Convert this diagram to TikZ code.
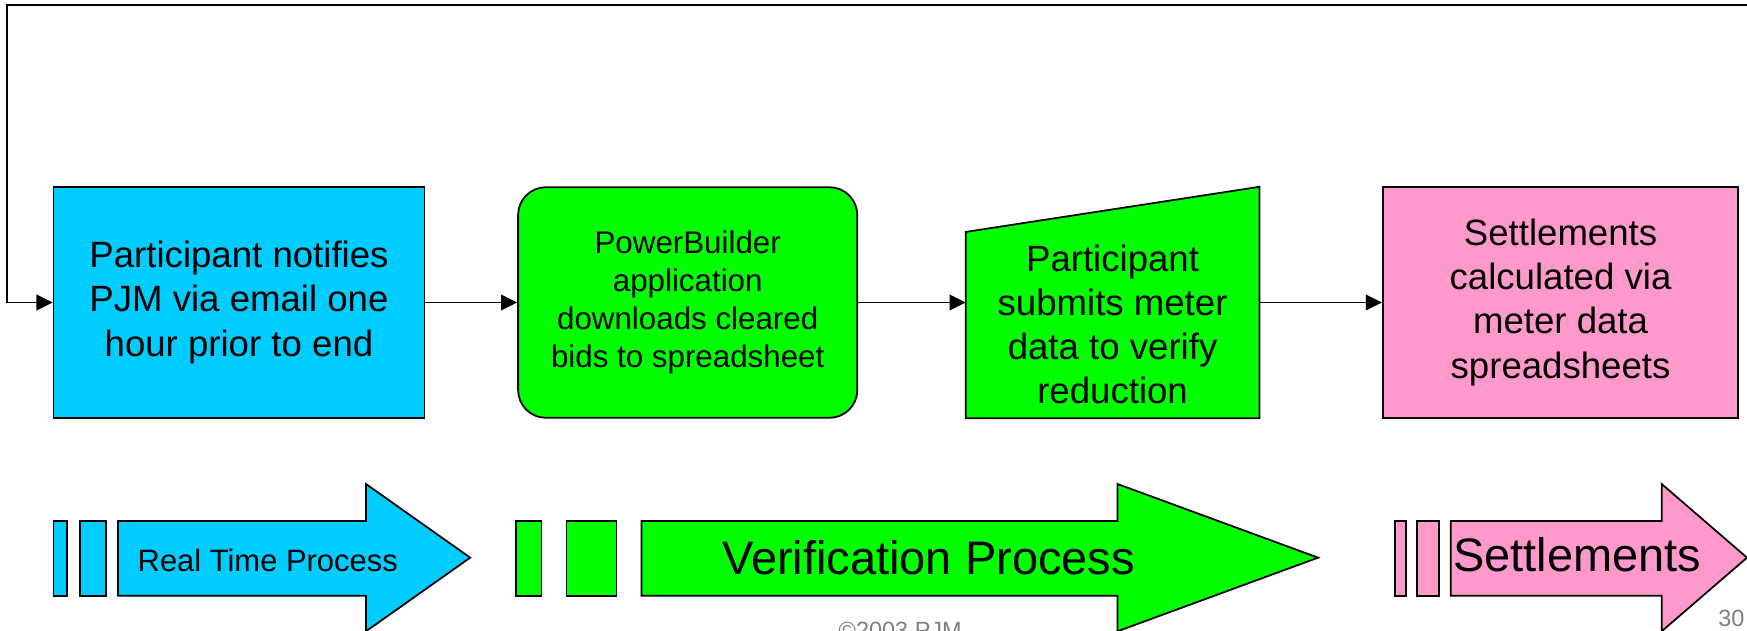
\documentclass[tikz,border=0pt]{standalone}
\usepackage{fontspec}
\setmainfont{Liberation Sans}
\usetikzlibrary{arrows.meta,positioning}

\definecolor{pjmcyan}{RGB}{0,204,255}
\definecolor{pjmgreen}{RGB}{0,255,0}
\definecolor{pjmpink}{RGB}{255,153,204}
\definecolor{pjmgray}{RGB}{128,128,128}

\tikzset{
  flow/.style={-{Triangle[length=0.29cm,width=0.28cm]}, line width=1pt},
  stagebox/.style={draw, line width=0.9pt, minimum height=4.14cm, align=center,
    font=\fontsize{18.7}{22.5}\selectfont},
  banner/.style={draw, line width=0.9pt},
  bannertext/.style={anchor=base, inner sep=0pt},
  footer/.style={text=pjmgray, font=\fontsize{12}{14}\selectfont, inner sep=0pt},
}

\begin{document}
\begin{tikzpicture}[x=0.02cm, y=-0.02cm]
    \useasboundingbox (0,0) rectangle (1568,566.3);

    % process boxes
    \node[stagebox, fill=pjmcyan, minimum width=6.66cm] (notify) at (214.5,271.5)
        {Participant notifies\\PJM via email one\\hour prior to end};
    \node[stagebox, fill=pjmgreen, minimum width=6.09cm, rounded corners=0.5cm,
        font=\fontsize{16}{19.4}\selectfont, right=1.65cm of notify] (download)
        {PowerBuilder\\application\\downloads cleared\\bids to spreadsheet};
    \node[minimum width=5.26cm, minimum height=4.14cm, inner sep=0pt,
        right=1.93cm of download] (submit) {};
    \filldraw[fill=pjmgreen, line width=0.9pt] (submit.south west) -- (submit.south east)
        -- (submit.north east) -- ([yshift=-0.81cm]submit.north west) -- cycle;
    \node[align=center, font=\fontsize{18.7}{22.5}\selectfont] (submittext)
        at ([yshift=-0.39cm]submit.center)
        {Participant\\submits meter\\data to verify\\reduction};
    \node[stagebox, fill=pjmpink, minimum width=6.38cm, right=2.2cm of submit] (settle)
        {Settlements\\calculated via\\meter data\\spreadsheets};

    % connectors
    \coordinate (loopstart) at (1568,4.5);
    \coordinate (loopcorner) at (6.7,4.5);
    \draw[flow] (loopstart) -- (loopcorner) |- (notify.west);
    \draw[flow] (notify.east) -- (download.west);
    \draw[flow] (download.east) -- (submit.west);
    \draw[flow] (submit.east) -- (settle.west);

    % phase banners
    \filldraw[banner, fill=pjmcyan] (48,467.6) rectangle (60,534.6);
    \filldraw[banner, fill=pjmcyan] (72,467.6) rectangle (95,534.6);
    \filldraw[banner, fill=pjmcyan] (106,467.6) -- (328.5,467.6) -- (328.5,434.4)
        -- (422,500.5) -- (328.5,566.6) -- (328.5,534.6) -- (106,534.6) -- cycle;
    \node[bannertext, font=\fontsize{15.8}{19}\selectfont] (realtime) at (240.3,512.5)
        {Real Time Process};

    \filldraw[banner, fill=pjmgreen] (463.3,467.6) rectangle (486,534.6);
    \filldraw[banner, fill=pjmgreen] (508.5,467.6) rectangle (553.3,534.6);
    \filldraw[banner, fill=pjmgreen] (575.8,467.6) -- (1003,467.6) -- (1003,434.4)
        -- (1183,500.5) -- (1003,566.6) -- (1003,534.6) -- (575.8,534.6) -- cycle;
    \node[bannertext, font=\fontsize{24}{28}\selectfont] (verify) at (833.4,516)
        {Verification Process};

    \filldraw[banner, fill=pjmpink] (1252,467.6) rectangle (1261.6,534.6);
    \filldraw[banner, fill=pjmpink] (1271.5,467.6) rectangle (1291.8,534.6);
    \filldraw[banner, fill=pjmpink] (1302,467.6) -- (1491.4,467.6) -- (1491.4,434.4)
        -- (1568,500.5) -- (1491.4,566.6) -- (1491.4,534.6) -- (1302,534.6) -- cycle;
    \node[bannertext, font=\fontsize{24}{28}\selectfont] (settletext) at (1415.8,513)
        {Settlements};

    % footer
    \node[footer, anchor=base] (copyright) at (808,573) {©2003 PJM};
    \node[footer, anchor=base east] (pagenum) at (1566,562.4) {30};
\end{tikzpicture}
\end{document}
